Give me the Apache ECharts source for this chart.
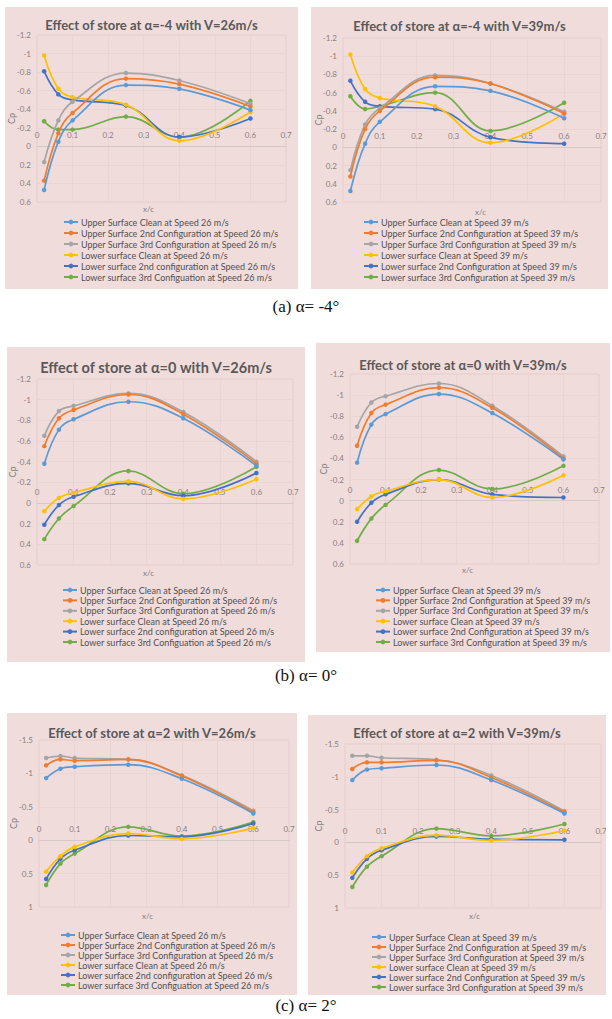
<!DOCTYPE html>
<html><head><meta charset="utf-8">
<script src="https://cdn.jsdelivr.net/npm/echarts@6/dist/echarts.min.js"></script>
<style>
html,body{margin:0;padding:0;background:#fff;width:612px;height:1019px;overflow:hidden;position:relative;}
.pan{position:absolute;background:#f1dcdc;}
.cap{position:absolute;left:0;width:612px;text-align:center;font-family:"Liberation Serif","DejaVu Serif",serif;font-size:17px;color:#111;}
</style></head>
<body>
<div class="pan" id="pA26" style="left:5px;top:7px;width:293px;height:282px"></div>
<div class="pan" id="pA39" style="left:311px;top:7px;width:297px;height:282px"></div>
<div class="cap" style="top:297px">(a) α= -4°</div>
<div class="pan" id="pB26" style="left:7px;top:347px;width:298px;height:315px"></div>
<div class="pan" id="pB39" style="left:316px;top:343px;width:294px;height:309px"></div>
<div class="cap" style="top:666px">(b) α= 0°</div>
<div class="pan" id="pC26" style="left:7px;top:713px;width:290px;height:282px"></div>
<div class="pan" id="pC39" style="left:308px;top:715px;width:298px;height:280px"></div>
<div class="cap" style="top:996px">(c) α= 2°</div>
<script>
// x/c stations
const xc = [0.02, 0.06, 0.1, 0.25, 0.4, 0.6];
const xTicks = {min: 0, max: 0.7, interval: 0.1};
const names26 = [
  "Upper Surface Clean at Speed 26 m/s",
  "Upper Surface 2nd Configuration at Speed 26 m/s",
  "Upper Surface 3rd Configuration at Speed 26 m/s",
  "Lower surface Clean at Speed 26 m/s",
  "Lower surface 2nd configuration at Speed 26 m/s",
  "Lower surface 3rd Configuation at Speed 26 m/s"];
const names39 = [
  "Upper Surface Clean at Speed 39 m/s",
  "Upper Surface 2nd Configuration at Speed 39 m/s",
  "Upper Surface 3rd Configuration at Speed 39 m/s",
  "Lower surface Clean at Speed 39 m/s",
  "Lower surface 2nd Configuration at Speed 39 m/s",
  "Lower surface 3rd Configuration at Speed 39 m/s"];
const titles = [
  "Effect of store at α=-4 with V=26m/s", "Effect of store at α=-4 with V=39m/s",
  "Effect of store at α=0 with V=26m/s", "Effect of store at α=0 with V=39m/s",
  "Effect of store at α=2 with V=26m/s", "Effect of store at α=2 with V=39m/s"];
const yTicksAB = {min: -1.2, max: 0.6, interval: 0.2};
const yTicksC = {min: -1.5, max: 1, interval: 0.5};

// alpha = -4, V = 26
const a26UC = [0.47, -0.05, -0.28, -0.66, -0.62, -0.39];
const a26U2 = [0.37, -0.14, -0.36, -0.73, -0.67, -0.43];
const a26U3 = [0.17, -0.28, -0.48, -0.79, -0.71, -0.46];
const a26LC = [-0.98, -0.62, -0.53, -0.45, -0.06, -0.37];
const a26L2 = [-0.81, -0.56, -0.50, -0.44, -0.10, -0.30];
const a26L3 = [-0.27, -0.18, -0.18, -0.32, -0.10, -0.49];
// alpha = -4, V = 39
const a39UC = [0.48, -0.04, -0.28, -0.67, -0.62, -0.32];
const a39U2 = [0.32, -0.20, -0.40, -0.77, -0.70, -0.37];
const a39U3 = [0.25, -0.25, -0.43, -0.79, -0.70, -0.39];
const a39LC = [-1.02, -0.64, -0.54, -0.45, -0.05, -0.37];
const a39L2 = [-0.73, -0.50, -0.45, -0.42, -0.11, -0.04];
const a39L3 = [-0.56, -0.42, -0.45, -0.60, -0.18, -0.49];
// alpha = 0, V = 26
const b26UC = [-0.38, -0.71, -0.81, -0.98, -0.82, -0.36];
const b26U2 = [-0.55, -0.82, -0.90, -1.05, -0.86, -0.38];
const b26U3 = [-0.65, -0.89, -0.94, -1.06, -0.88, -0.40];
const b26LC = [0.08, -0.05, -0.10, -0.21, -0.04, -0.23];
const b26L2 = [0.21, 0.02, -0.06, -0.19, -0.07, -0.29];
const b26L3 = [0.35, 0.15, 0.03, -0.31, -0.09, -0.35];
// alpha = 0, V = 39
const b39UC = [-0.36, -0.72, -0.82, -1.01, -0.83, -0.39];
const b39U2 = [-0.52, -0.83, -0.91, -1.07, -0.88, -0.40];
const b39U3 = [-0.70, -0.93, -0.99, -1.11, -0.90, -0.42];
const b39LC = [0.08, -0.04, -0.09, -0.20, -0.03, -0.24];
const b39L2 = [0.20, 0.02, -0.06, -0.20, -0.06, -0.03];
const b39L3 = [0.38, 0.17, 0.04, -0.29, -0.11, -0.33];
// alpha = 2, V = 26
const c26UC = [-0.93, -1.07, -1.10, -1.13, -0.92, -0.40];
const c26U2 = [-1.12, -1.21, -1.19, -1.21, -0.96, -0.42];
const c26U3 = [-1.23, -1.26, -1.23, -1.21, -0.97, -0.44];
const c26LC = [0.47, 0.24, 0.10, -0.10, -0.02, -0.18];
const c26L2 = [0.58, 0.28, 0.15, -0.07, -0.05, -0.25];
const c26L3 = [0.67, 0.35, 0.20, -0.20, -0.06, -0.27];
// alpha = 2, V = 39
const c39UC = [-0.95, -1.11, -1.13, -1.18, -0.95, -0.44];
const c39U2 = [-1.12, -1.22, -1.22, -1.25, -0.99, -0.46];
const c39U3 = [-1.32, -1.32, -1.29, -1.26, -1.02, -0.48];
const c39LC = [0.46, 0.21, 0.09, -0.11, -0.03, -0.18];
const c39L2 = [0.54, 0.25, 0.12, -0.09, -0.05, -0.04];
const c39L3 = [0.68, 0.37, 0.21, -0.21, -0.10, -0.28];

const colors = ['#5B9BD5', '#ED7D31', '#A5A5A5', '#FFC000', '#4472C4', '#70AD47'];
const FONT = 'Lato, "Liberation Sans", sans-serif';

function makePanel(id, title, names, ys, yt, L) {
  const chart = echarts.init(document.getElementById(id), null, {renderer: 'svg'});
  const series = ys.map((arr, i) => ({
    name: names[i], type: 'line', smooth: 0.4,
    data: arr.map((v, k) => [xc[k], v]),
    symbol: 'circle', symbolSize: 4.5, showSymbol: true,
    lineStyle: {width: 1.7, color: colors[i]},
    itemStyle: {color: colors[i]},
    z: 10 - i
  }));
  chart.setOption({
    animation: false,
    title: {text: title, left: 'center', top: L.titleTop,
      textStyle: {fontFamily: FONT, fontWeight: 'bold', fontSize: L.titleSize, color: '#595959'}},
    grid: {left: L.gl, right: L.gr, top: L.gt, bottom: L.gb, containLabel: false, outerBoundsMode: 'none',
      show: true, borderColor: '#e3cccc', borderWidth: 1},
    xAxis: {type: 'value', min: xTicks.min, max: xTicks.max, interval: xTicks.interval,
      position: 'top', offset: 0,
      axisLine: {onZero: false, lineStyle: {color: '#d6c8c8'}},
      axisTick: {show: false},
      axisLabel: {fontSize: 8, color: '#8a7f7f', fontFamily: FONT, margin: 7},
      splitLine: {show: true, lineStyle: {color: '#ead4d4'}}},
    yAxis: {type: 'value', inverse: true, min: yt.min, max: yt.max, interval: yt.interval,
      name: 'Cp', nameLocation: 'middle', nameGap: L.ng, nameRotate: 90, nameMoveOverlap: false,
      nameTextStyle: {fontSize: 9, color: '#7f7f7f', fontFamily: FONT},
      axisLine: {show: false, onZero: false}, axisTick: {show: false},
      axisLabel: {fontSize: 8, color: '#8a7f7f', fontFamily: FONT, margin: 6},
      splitLine: {show: true, lineStyle: {color: '#ead4d4'}}},
    legend: {orient: 'vertical', left: L.ll, top: L.lt, itemWidth: 14, itemHeight: 6,
      itemGap: L.lg, data: names, padding: 0,
      textStyle: {fontSize: 9, lineHeight: 10, color: '#505050', fontFamily: FONT, padding: [0, 0, 0, -2]}},
    graphic: [{type: 'text', left: L.xcx, top: L.xcy,
      style: {text: 'x/c', fontSize: 8, fill: '#7f7f7f', fontFamily: FONT}}],
    series: series
  });
  // place the x axis on the Cp = 0 line, using the chart's own y scale
  const zeroY = chart.convertToPixel({yAxisIndex: 0}, 0);
  const topY = chart.convertToPixel({yAxisIndex: 0}, yt.min);
  chart.setOption({xAxis: {offset: -(zeroY - topY)}});
}

makePanel('pA26', titles[0], names26, [a26UC, a26U2, a26U3, a26LC, a26L2, a26L3], yTicksAB,
  {titleTop: 6.5, titleSize: 13, gl: 32, gr: 12, gt: 28, gb: 87, ng: 21.5, ll: 58, lt: 210, lg: 1, xcx: 138, xcy: 198});
makePanel('pA39', titles[1], names39, [a39UC, a39U2, a39U3, a39LC, a39L2, a39L3], yTicksAB,
  {titleTop: 7.5, titleSize: 13, gl: 32, gr: 7, gt: 31, gb: 87, ng: 20.5, ll: 52, lt: 210, lg: 1, xcx: 164, xcy: 201});
makePanel('pB26', titles[2], names26, [b26UC, b26U2, b26U3, b26LC, b26L2, b26L3], yTicksAB,
  {titleTop: 7.5, titleSize: 14.5, gl: 30, gr: 12, gt: 32, gb: 97, ng: 20.5, ll: 55, lt: 238, lg: 0.4, xcx: 136, xcy: 222});
makePanel('pB39', titles[3], names39, [b39UC, b39U2, b39U3, b39LC, b39L2, b39L3], yTicksAB,
  {titleTop: 10.5, titleSize: 13, gl: 34, gr: 11, gt: 31, gb: 88, ng: 22.5, ll: 59, lt: 242, lg: 0.4, xcx: 146, xcy: 223});
makePanel('pC26', titles[4], names26, [c26UC, c26U2, c26U3, c26LC, c26L2, c26L3], yTicksC,
  {titleTop: 8.5, titleSize: 13, gl: 32, gr: 8, gt: 27, gb: 88, ng: 21.5, ll: 53, lt: 217, lg: 0, xcx: 135, xcy: 199});
makePanel('pC39', titles[5], names39, [c39UC, c39U2, c39U3, c39LC, c39L2, c39L3], yTicksC,
  {titleTop: 6.5, titleSize: 13, gl: 37, gr: 5, gt: 29, gb: 87, ng: 22.5, ll: 63, lt: 217, lg: 0, xcx: 161, xcy: 197});
</script>
</body></html>
